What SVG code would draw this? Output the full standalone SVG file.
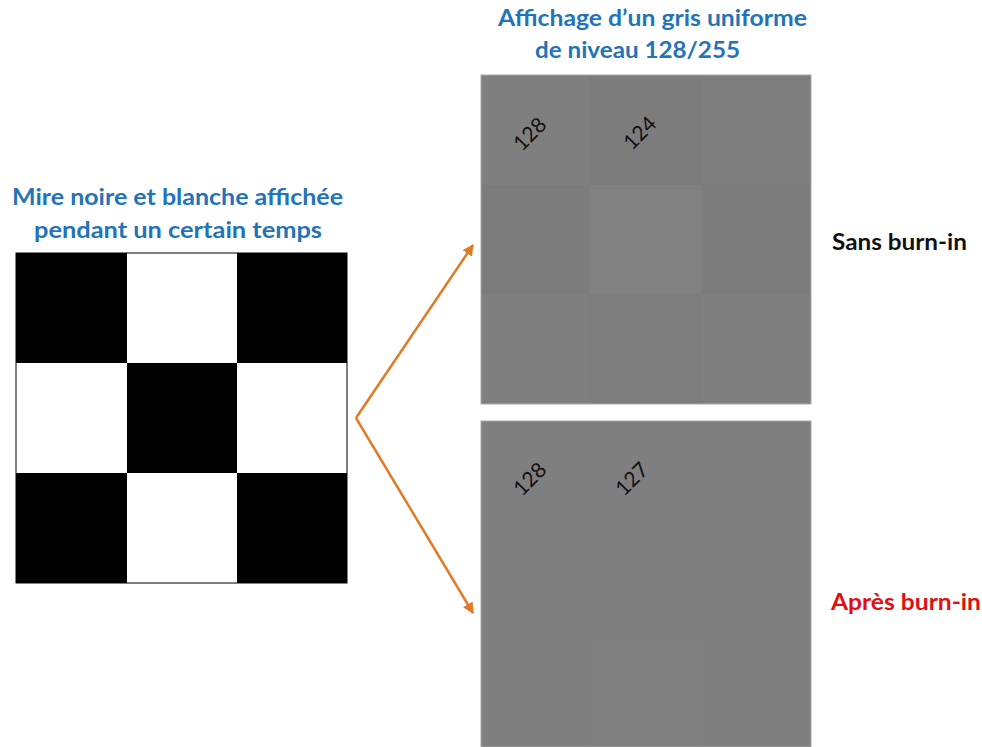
<svg xmlns="http://www.w3.org/2000/svg" width="982" height="747" viewBox="0 0 982 747">
<style>
.t{font-family:Lato,"Open Sans","Liberation Sans",sans-serif;font-weight:bold;font-size:22.5px}
.blue{fill:#2373b8}
.num{font-family:Lato,"Open Sans","Liberation Sans",sans-serif;font-size:21px;fill:#111}
.conn{stroke:#e07a28;stroke-width:2.5;fill:none}
</style>
<defs>
<marker id="ah" viewBox="0 0 10 10" refX="9" refY="5" markerWidth="4.5" markerHeight="4.5" orient="auto" markerUnits="strokeWidth">
<path d="M0,0 L10,5 L0,10 z" fill="#e07a28"/>
</marker>
</defs>
<rect width="982" height="747" fill="#fff"/>

<g id="title-left">
<text class="t blue" x="12" y="205" textLength="331" lengthAdjust="spacingAndGlyphs">Mire noire et blanche affichée</text>
<text class="t blue" x="34" y="238" textLength="288" lengthAdjust="spacingAndGlyphs">pendant un certain temps</text>
</g>

<g id="title-right">
<text class="t blue" x="498" y="26" textLength="309" lengthAdjust="spacingAndGlyphs">Affichage d’un gris uniforme</text>
<text class="t blue" x="535" y="58" textLength="205" lengthAdjust="spacingAndGlyphs">de niveau 128/255</text>
</g>

<g id="mire">
<rect x="16" y="253" width="331" height="330" fill="#fff" stroke="#000" stroke-width="1"/>
<rect x="16" y="253" width="111" height="110" fill="#000"/>
<rect x="237" y="253" width="110" height="110" fill="#000"/>
<rect x="127" y="363" width="110" height="110" fill="#000"/>
<rect x="16" y="473" width="111" height="110" fill="#000"/>
<rect x="237" y="473" width="110" height="110" fill="#000"/>
</g>

<g id="panel-top">
<rect x="481" y="75" width="108" height="110" fill="#7f7f7f"/>
<rect x="589" y="75" width="113" height="110" fill="#7c7c7c"/>
<rect x="702" y="75" width="109" height="110" fill="#7e7e7e"/>
<rect x="481" y="185" width="108" height="109" fill="#7c7c7c"/>
<rect x="589" y="185" width="113" height="109" fill="#818181"/>
<rect x="702" y="185" width="109" height="109" fill="#7c7c7c"/>
<rect x="481" y="294" width="108" height="110" fill="#7f7f7f"/>
<rect x="589" y="294" width="113" height="110" fill="#7d7d7d"/>
<rect x="702" y="294" width="109" height="110" fill="#7f7f7f"/>
<rect x="481" y="75" width="330" height="329" fill="none" stroke="#a8a8a8" stroke-width="1"/>
<text class="num" transform="translate(522,152) rotate(-45)">128</text>
<text class="num" transform="translate(632,151) rotate(-45)">124</text>
</g>

<g id="panel-bottom">
<rect x="481" y="421" width="330" height="326" fill="#7f7f7f"/>
<rect x="589" y="643" width="113" height="104" fill="#808080"/>
<rect x="481" y="421" width="330" height="326" fill="none" stroke="#a8a8a8" stroke-width="1"/>
<text class="num" transform="translate(522,497) rotate(-45)">128</text>
<text class="num" transform="translate(624,497) rotate(-45)">127</text>
</g>

<g id="label-sans">
<text class="t" x="832" y="250" fill="#111" textLength="135" lengthAdjust="spacingAndGlyphs">Sans burn-in</text>
</g>
<g id="label-apres">
<text class="t" x="831" y="610" fill="#e01010" textLength="150" lengthAdjust="spacingAndGlyphs">Après burn-in</text>
</g>

<g id="connectors">
<path class="conn" d="M356,418 L473,245" marker-end="url(#ah)"/>
<path class="conn" d="M356,418 L473,613" marker-end="url(#ah)"/>
</g>
</svg>
